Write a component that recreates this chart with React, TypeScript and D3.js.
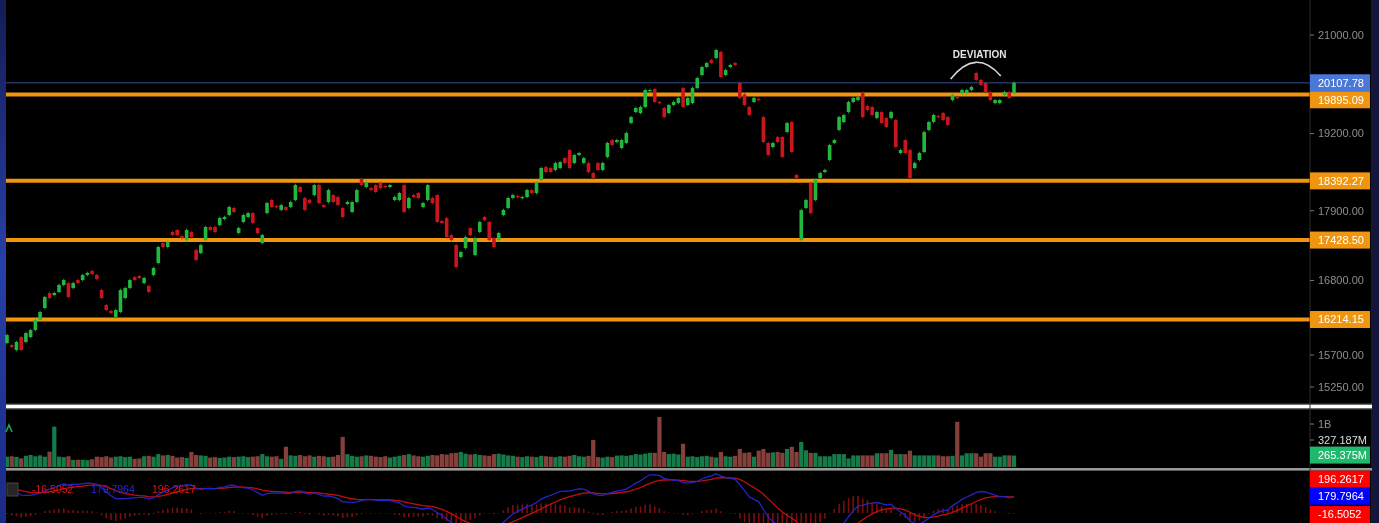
import React from 'react'
import * as d3 from 'd3'

// daily candles (price units)
const closes = [
  15987, 15814, 15886, 15771, 16016, 16060, 16207, 16325, 16549, 16534,
  16610, 16731, 16807, 16549, 16761, 16761, 16884, 16915, 16899, 16822,
  16534, 16355, 16311, 16355, 16655, 16685, 16807, 16807, 16838, 16838,
  16625, 16992, 17319, 17319, 17397, 17509, 17509, 17461, 17589, 17477,
  17115, 17350, 17637, 17589, 17557, 17781, 17798, 17960, 17879, 17621,
  17830, 17862, 17701, 17541, 17509, 18026, 17960, 17960, 17993, 17911,
  18042, 18323, 18207, 17911, 18026, 18323, 18026, 17960, 18240, 18042,
  17993, 17798, 18042, 18042, 18240, 18323, 18373, 18240, 18207, 18273,
  18290, 18323, 18124, 18190, 17879, 18108, 18124, 18108, 18026, 18323,
  18026, 17717, 17701, 17477, 17429, 17007, 17240, 17477, 17509, 17461,
  17717, 17749, 17429, 17319, 17541, 17911, 18108, 18157, 18124, 18124,
  18240, 18190, 18357, 18608, 18541, 18541, 18693, 18710, 18693, 18608,
  18830, 18864, 18778, 18541, 18440, 18575, 18693, 19036, 19002, 19088,
  19088, 19210, 19491, 19652, 19670, 19976, 19976, 19759, 19741, 19491,
  19705, 19759, 19831, 19670, 19831, 20012, 20195, 20398, 20472, 20472,
  20716, 20213, 20342, 20435, 20435, 19831, 19705, 19527, 19831, 19795,
  19053, 18830, 19036, 19053, 18796, 19385, 18881, 18440, 17911, 18075,
  17862, 18407, 18524, 18575, 19002, 19088, 19491, 19527, 19759, 19831,
  19849, 19491, 19616, 19527, 19580, 19385, 19315, 19580, 18967, 18915,
  18864, 18440, 18693, 18864, 19228, 19403, 19527, 19491, 19438, 19350,
  19885, 19831, 19976, 19976, 20030, 20158, 20067, 19940, 19795, 19795,
  19795, 19940, 19831, 20107.78,
]

const opens = [
  15872, 15843, 15771, 15958, 15886, 15958, 16060, 16207, 16384, 16610,
  16579, 16625, 16731, 16761, 16685, 16807, 16807, 16884, 16946, 16884,
  16655, 16429, 16340, 16251, 16325, 16534, 16685, 16853, 16869, 16761,
  16716, 16884, 17069, 17382, 17319, 17557, 17589, 17493, 17429, 17557,
  17272, 17224, 17429, 17637, 17637, 17669, 17765, 17830, 17944, 17541,
  17717, 17798, 17862, 17621, 17382, 17862, 18075, 17977, 17911, 17960,
  17960, 18075, 18290, 18108, 18075, 18157, 18323, 17993, 18042, 18157,
  18124, 17944, 18009, 17879, 18042, 18424, 18290, 18273, 18323, 18357,
  18307, 18290, 18075, 18075, 18323, 17944, 18157, 18190, 17960, 18075,
  18108, 18157, 17733, 17781, 17509, 17350, 17162, 17303, 17621, 17193,
  17557, 17798, 17717, 17461, 17429, 17830, 17944, 18108, 18141, 18108,
  18124, 18240, 18190, 18407, 18625, 18608, 18575, 18608, 18778, 18915,
  18693, 18830, 18693, 18693, 18524, 18693, 18575, 18796, 19088, 19053,
  18950, 19036, 19385, 19580, 19563, 19670, 19958, 19994, 19759, 19652,
  19563, 19705, 19741, 20012, 19705, 19741, 20012, 20250, 20398, 20528,
  20566, 20679, 20250, 20398, 20472, 20103, 19895, 19670, 19759, 19813,
  19491, 19036, 18967, 19140, 19140, 19228, 19403, 18490, 17429, 17944,
  18357, 18075, 18440, 18541, 18744, 19036, 19263, 19403, 19580, 19759,
  19795, 19921, 19687, 19670, 19474, 19580, 19474, 19474, 19438, 18864,
  19088, 18915, 18608, 18744, 18881, 19263, 19403, 19509, 19562, 19491,
  19795, 19849, 19921, 19921, 19976, 20287, 20158, 20103, 19940, 19741,
  19741, 19885, 19940, 19921,
]

// volume in millions
const volumes = [
  240, 250, 235, 200, 260, 280, 250, 270, 240, 357,
  940, 240, 230, 250, 165, 170, 170, 160, 180, 240,
  230, 250, 220, 240, 250, 230, 240, 190, 200, 250,
  260, 240, 300, 270, 280, 260, 220, 230, 210, 350,
  280, 270, 260, 220, 230, 210, 220, 240, 230, 240,
  250, 230, 240, 250, 300, 250, 240, 250, 190, 470,
  270, 260, 280, 250, 270, 240, 260, 250, 230, 240,
  280, 700, 300, 260, 240, 250, 270, 260, 240, 230,
  250, 220, 240, 260, 280, 300, 270, 250, 240, 260,
  280, 270, 300, 290, 320, 330, 350, 310, 290, 300,
  280, 270, 260, 300, 310, 290, 270, 260, 240, 230,
  250, 240, 230, 260, 250, 240, 230, 250, 240, 260,
  280, 250, 240, 260, 630, 230, 220, 240, 230, 265,
  270, 260, 275, 300, 290, 310, 330, 330, 1165, 350,
  300, 310, 290, 540, 240, 250, 230, 250, 260, 240,
  220, 350, 250, 240, 260, 420, 330, 340, 240, 380,
  420, 330, 340, 350, 330, 420, 470, 350, 585, 390,
  330, 330, 250, 250, 250, 300, 300, 300, 200, 270,
  270, 270, 270, 270, 320, 320, 320, 400, 300, 300,
  300, 380, 270, 270, 270, 270, 270, 270, 250, 250,
  260, 1050, 270, 320, 320, 320, 240, 320, 320, 240,
  240, 270, 270, 265.375,
]

const levels = [19895.09, 18392.27, 17428.5, 16214.15]
const lastPrice = 20107.78
const priceTicks = [21000, 19200, 17900, 16800, 15700, 15250]
const volumeTickLabel = '1B'
const volumeTick = 1000
const volumeMaLabel = '327.187M'
const lastVolumeLabel = '265.375M'
const macdLast = { hist: -16.5052, macd: 179.7964, signal: 196.2617 }
const macdSeed = { fastLag: 110, macd: 270, signal: 270 }
const annotation = { label: 'DEVIATION', from: 199.6, to: 210.2, base: 20195, peak: 20480 }

const W = 1379
const H = 523
const LEFT = 6
const AXIS_X = 1310
const RIGHT = 1370
const FONT = '"Liberation Sans", Arial, sans-serif'

const GREEN = '#22b83c'
const RED = '#c8161c'
const ORANGE = '#f0950f'

export default function App() {
  const n = closes.length
  const x = d3.scaleLinear().domain([0, n - 1]).range([7, 1014])
  const y = d3.scaleLog().domain([15002, 21679]).range([405, 0])
  const vy = d3.scaleLinear().domain([0, 1000]).range([467, 424])
  const my = d3.scaleLinear().domain([0, 400]).range([513, 475.6])

  const WICK = 0.0012

  // MACD 12/26/9
  const k12 = 2 / 13, k26 = 2 / 27, k9 = 2 / 10
  let e12 = closes[0] - macdSeed.fastLag
  let e26 = e12 - macdSeed.macd
  let sig = macdSeed.signal
  const macd: { m: number; s: number; h: number }[] = []
  closes.forEach((c) => {
    e12 += k12 * (c - e12)
    e26 += k26 * (c - e26)
    const m = e12 - e26
    sig += k9 * (m - sig)
    macd.push({ m, s: sig, h: m - sig })
  })
  const macdLine = d3.line<{ m: number }>().x((_, i) => x(i)).y((d) => my(d.m))
  const sigLine = d3.line<{ s: number }>().x((_, i) => x(i)).y((d) => my(d.s))

  // right-hand price boxes, pushed apart so they do not overlap
  const boxH = 17
  const priceBoxes = [
    { v: lastPrice, color: '#4a78d8', text: '#fff' },
    ...levels.map((v) => ({ v, color: ORANGE, text: '#fff' })),
  ].map((b) => ({ ...b, yy: y(b.v) }))
  for (let i = 1; i < priceBoxes.length; i++) {
    const prev = priceBoxes[i - 1]
    if (priceBoxes[i].yy - prev.yy < boxH) priceBoxes[i].yy = prev.yy + boxH
  }

  const blueY = my(macdLast.macd)
  const macdBoxes = [
    { v: macdLast.signal, color: '#ff0000', yy: blueY - boxH },
    { v: macdLast.macd, color: '#0000ff', yy: blueY },
    { v: macdLast.hist, color: '#ff0000', yy: Math.max(my(macdLast.hist), blueY + boxH) },
  ]

  const ax = x(annotation.from)
  const bx = x(annotation.to)
  const baseY = y(annotation.base)
  const peakY = y(annotation.peak)
  const ctrlY = 2 * peakY - baseY
  const arcPath = `M${ax},${baseY + 1}Q${(ax + bx) / 2},${ctrlY} ${bx},${baseY - 2}`

  return (
    <div style={{ position: 'fixed', left: 0, top: 0 }}>
      <svg width={W} height={H} style={{ display: 'block', background: '#000' }} fontFamily={FONT}>
        <defs>
          <linearGradient id="lstrip" x1="0" y1="0" x2="0" y2="1">
            <stop offset="0" stopColor="#141c55" />
            <stop offset="0.5" stopColor="#2740a8" />
            <stop offset="1" stopColor="#1a2a86" />
          </linearGradient>
          <clipPath id="volClip"><rect x={LEFT} y={409} width={AXIS_X - LEFT} height={59} /></clipPath>
          <clipPath id="macdClip"><rect x={LEFT} y={471} width={AXIS_X - LEFT} height={52} /></clipPath>
          <filter id="soft"><feGaussianBlur stdDeviation="0.45" /></filter>
        </defs>

        <rect x={0} y={0} width={W} height={H} fill="#000" />
        <rect x={0} y={0} width={LEFT} height={H} fill="url(#lstrip)" />
        <rect x={RIGHT + 1} y={0} width={W - RIGHT - 1} height={H} fill="#15163a" />

        <g filter="url(#soft)">
          {/* last price line */}
          <line x1={LEFT} x2={AXIS_X} y1={y(lastPrice)} y2={y(lastPrice)} stroke="#243062" strokeWidth={1.5} />
          {/* levels */}
          {levels.map((v) => (
            <line key={v} x1={LEFT} x2={AXIS_X} y1={y(v)} y2={y(v)} stroke={ORANGE} strokeWidth={4} />
          ))}

          {/* candles */}
          {closes.map((c, i) => {
            const o = opens[i]
            const up = c >= o
            const col = up ? GREEN : RED
            const top = Math.max(o, c)
            const bot = Math.min(o, c)
            const cx = x(i)
            const y0 = y(top)
            const y1 = y(bot)
            return (
              <g key={i}>
                <line x1={cx} x2={cx} y1={y(top * (1 + WICK))} y2={y(bot * (1 - WICK))} stroke={col} strokeWidth={1} opacity={0.85} />
                <rect x={cx - 1.8} y={y0} width={3.6} height={Math.max(1.2, y1 - y0)} fill={col} />
              </g>
            )
          })}

          {/* volume */}
          <g clipPath="url(#volClip)">
            {volumes.map((v, i) => {
              const up = closes[i] >= opens[i]
              return (
                <rect key={i} x={x(i) - 2.1} y={vy(v)} width={4.2} height={vy(0) - vy(v)}
                  fill={up ? '#147a4a' : '#86403a'} />
              )
            })}
          </g>

          {/* MACD */}
          <g clipPath="url(#macdClip)">
            {macd.map((d, i) => (
              <rect key={i} x={x(i) - 0.8} y={Math.min(my(0), my(d.h))} width={1.6}
                height={Math.max(0.5, Math.abs(my(d.h) - my(0)))} fill="#9a1414" opacity={0.8} />
            ))}
            <path d={sigLine(macd) || ''} fill="none" stroke="#c01010" strokeWidth={1.3} />
            <path d={macdLine(macd) || ''} fill="none" stroke="#2424c8" strokeWidth={1.3} />
          </g>
        </g>

        {/* panel separators */}
        <rect x={LEFT} y={403.5} width={RIGHT - LEFT + 2} height={6} fill="#6a6a6a" opacity={0.7} />
        <rect x={LEFT} y={404.8} width={RIGHT - LEFT + 2} height={3.4} fill="#fff" />
        <rect x={LEFT} y={468} width={RIGHT - LEFT + 2} height={2.6} fill="#9a9a9a" />

        {/* price axis */}
        <line x1={AXIS_X} x2={AXIS_X} y1={0} y2={H} stroke="#2e2e2e" strokeWidth={1} />
        {priceTicks.map((t) => (
          <g key={t}>
            <line x1={AXIS_X} x2={AXIS_X + 4} y1={y(t)} y2={y(t)} stroke="#777" />
            <text x={1318} y={y(t)} dy="0.35em" fontSize={11} fill="#8e8e8e">{t.toFixed(2)}</text>
          </g>
        ))}
        {priceBoxes.map((b) => (
          <g key={b.v}>
            <rect x={AXIS_X} y={b.yy - boxH / 2} width={RIGHT - AXIS_X} height={boxH} fill={b.color} />
            <text x={1318} y={b.yy} dy="0.35em" fontSize={11} fill={b.text}>{b.v.toFixed(2)}</text>
          </g>
        ))}

        {/* volume axis */}
        <line x1={AXIS_X} x2={AXIS_X + 4} y1={vy(volumeTick)} y2={vy(volumeTick)} stroke="#777" />
        <text x={1318} y={vy(volumeTick)} dy="0.35em" fontSize={11} fill="#8e8e8e">{volumeTickLabel}</text>
        <line x1={AXIS_X} x2={AXIS_X + 4} y1={vy(volumeTick) + 16} y2={vy(volumeTick) + 16} stroke="#777" />
        <text x={1318} y={vy(volumeTick) + 16} dy="0.35em" fontSize={11} fill="#dcdcdc">{volumeMaLabel}</text>
        <rect x={AXIS_X} y={vy(volumes[n - 1]) - boxH / 2 - 0.5} width={RIGHT - AXIS_X} height={boxH} fill="#20b86c" />
        <text x={1318} y={vy(volumes[n - 1]) - 0.5} dy="0.35em" fontSize={11} fill="#fff">{lastVolumeLabel}</text>
        <path d="M6,432 L9,425 L12,432" fill="none" stroke="#1aa860" strokeWidth={1.5} />

        {/* MACD boxes */}
        {macdBoxes.map((b) => (
          <g key={b.v}>
            <rect x={AXIS_X} y={b.yy - boxH / 2} width={RIGHT - AXIS_X} height={boxH} fill={b.color} />
            <text x={1318} y={b.yy} dy="0.35em" fontSize={11} fill="#fff">{b.v.toFixed(4)}</text>
          </g>
        ))}

        {/* MACD legend */}
        <rect x={7} y={483} width={11} height={13} fill="#262626" stroke="#444" />
        <text x={32} y={489.5} dy="0.35em" fontSize={10.5} fill="#e01414">{macdLast.hist.toFixed(4)}</text>
        <text x={91} y={489.5} dy="0.35em" fontSize={10.5} fill="#2a2ad8">{macdLast.macd.toFixed(4)}</text>
        <text x={152} y={489.5} dy="0.35em" fontSize={10.5} fill="#e01414">{macdLast.signal.toFixed(4)}</text>

        {/* annotation */}
        <path d={arcPath} fill="none" stroke="#d8d8d8" strokeWidth={1.6} />
        <text x={(ax + bx) / 2 + 4} y={54} dy="0.35em" textAnchor="middle" fontSize={10} fontWeight="bold" fill="#e4e4e4">
          {annotation.label}
        </text>
      </svg>
    </div>
  )
}
